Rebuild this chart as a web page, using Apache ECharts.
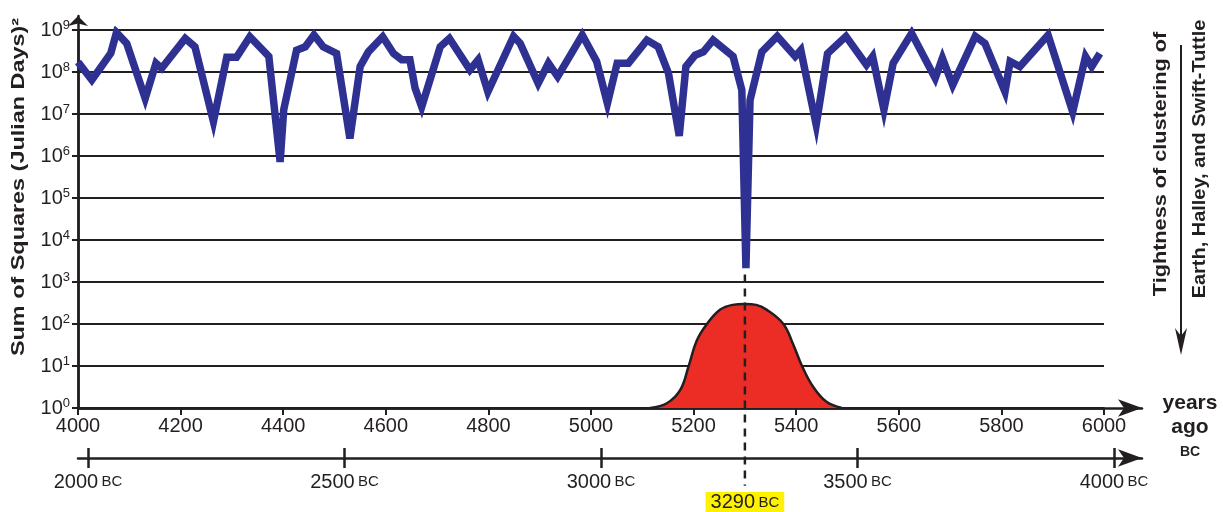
<!DOCTYPE html>
<html>
<head>
<meta charset="utf-8">
<script src="https://cdn.jsdelivr.net/npm/echarts@6/dist/echarts.min.js"></script>
<style>
  html, body { margin: 0; padding: 0; background: #fff; }
  #chart { width: 1223px; height: 512px; }
</style>
</head>
<body>
<div id="chart"></div>
<script>
  // blue line: years ago / log10 of sum of squares (Julian days^2)
  var sumSqYears = [4000, 4027, 4064, 4075, 4095, 4131, 4152, 4163, 4209, 4228, 4264, 4290, 4309, 4335, 4372, 4394, 4401,
    4426, 4443, 4460, 4478, 4504, 4530, 4550, 4566, 4594, 4615, 4631, 4647, 4657, 4670, 4706, 4724, 4764, 4780, 4799,
    4849, 4862, 4897, 4917, 4935, 4983, 5011, 5032, 5051, 5073, 5109, 5131, 5151, 5172, 5185, 5203, 5219, 5238, 5277,
    5294, 5302, 5310, 5333, 5363, 5398, 5409, 5439, 5461, 5497, 5537, 5549, 5571, 5589, 5625, 5671, 5685, 5705, 5749,
    5768, 5807, 5817, 5836, 5891, 5939, 5964, 5976, 5992];
  var sumSqExp = [8.24, 7.81, 8.45, 8.94, 8.68, 7.37, 8.21, 8.09, 8.80, 8.60, 6.82, 8.35, 8.35, 8.84, 8.37, 5.86, 7.10,
    8.52, 8.60, 8.88, 8.60, 8.44, 6.42, 8.13, 8.48, 8.84, 8.44, 8.29, 8.29, 7.62, 7.17, 8.60, 8.80, 8.05, 8.29, 7.53,
    8.85, 8.68, 7.73, 8.21, 7.89, 8.88, 8.25, 7.25, 8.21, 8.21, 8.76, 8.60, 7.97, 6.48, 8.13, 8.40, 8.48, 8.76, 8.37,
    7.57, 3.33, 7.33, 8.48, 8.85, 8.37, 8.52, 6.74, 8.44, 8.85, 8.17, 8.37, 7.10, 8.21, 8.92, 7.85, 8.33, 7.69, 8.85,
    8.68, 7.53, 8.25, 8.13, 8.88, 7.05, 8.37, 8.13, 8.44];

  // red bell (clustering tightness)
  var peakYears = [5115, 5148, 5174, 5190, 5206, 5226, 5252, 5276, 5300, 5322, 5342, 5375, 5394, 5412, 5433, 5459, 5489];
  var peakValues = [1, 1.3, 2.7, 9.6, 40, 100, 220, 285, 300, 285, 220, 100, 33, 9.6, 3.2, 1.4, 1];

  var bcTicks = [2000, 2500, 3000, 3500, 4000];
  var markerYearsAgo = 5300;
  var markerBC = 3290;
  var markerSpan = [1500, 0.014];

  var ink = '#231f20';
  var font = '"Liberation Sans", Arial, sans-serif';

  var blueData = sumSqYears.map(function (y, i) {
    return [y, Math.pow(10, sumSqExp[i])];
  });
  var peakData = peakYears.map(function (y, i) {
    return [y, peakValues[i]];
  });
  var markerData = markerSpan.map(function (v) {
    return [markerYearsAgo, v];
  });

  var bcRich = {
    n: { fontSize: 20, color: ink, fontFamily: font },
    s: { fontSize: 15, color: ink, fontFamily: font }
  };

  var chart = echarts.init(document.getElementById('chart'));
  chart.setOption({
    animation: false,
    backgroundColor: '#fff',
    textStyle: { fontFamily: font, color: ink },
    grid: [
      { left: 78, top: 30, right: 119, bottom: 104 },
      { left: 78, top: 458, right: 81, bottom: 54 },
      { left: 78, top: 16, right: 81, bottom: 104 }
    ],
    xAxis: [{
      gridIndex: 0,
      type: 'value',
      min: 4000,
      max: 6000,
      interval: 200,
      axisLine: { lineStyle: { color: ink, width: 2.5 } },
      axisTick: { show: true, length: 7, lineStyle: { color: ink, width: 2 } },
      axisLabel: {
        margin: 8, fontSize: 20, color: ink, fontFamily: font,
        formatter: function (v) { return String(v); }
      },
      splitLine: { show: false }
    }, {
      gridIndex: 1,
      type: 'value',
      position: 'bottom',
      min: 1980.5,
      max: 4054.5,
      axisLine: {
        lineStyle: { color: ink, width: 2.5 },
        symbol: ['none', 'arrow'],
        symbolSize: [13, 24]
      },
      axisTick: { show: true, length: 10, customValues: bcTicks, lineStyle: { color: ink, width: 2.5 } },
      axisLabel: {
        margin: 14,
        customValues: bcTicks,
        formatter: function (v) { return '{n|' + v + '} {s|BC}'; },
        rich: bcRich
      },
      splitLine: { show: false }
    }, {
      gridIndex: 1,
      type: 'value',
      position: 'top',
      min: 1980.5,
      max: 4054.5,
      axisLine: { show: false },
      axisTick: { show: true, length: 10, customValues: bcTicks, lineStyle: { color: ink, width: 2.5 } },
      axisLabel: { show: false },
      splitLine: { show: false }
    }, {
      gridIndex: 2,
      type: 'value',
      min: 0,
      max: 1,
      axisLine: {
        lineStyle: { color: ink, width: 2.5 },
        symbol: ['none', 'arrow'],
        symbolSize: [13, 24]
      },
      axisTick: { show: false },
      axisLabel: { show: false },
      splitLine: { show: false }
    }],
    yAxis: [{
      gridIndex: 0,
      type: 'log',
      logBase: 10,
      min: 1,
      max: 1e9,
      splitNumber: 9,
      axisLine: { show: true, lineStyle: { color: ink, width: 2.5 } },
      axisTick: { show: true, length: 6, lineStyle: { color: ink, width: 2 } },
      axisLabel: {
        margin: 8,
        formatter: function (v) {
          var e = Math.round(Math.log10(v));
          return '{b|10}{s|' + e + '}';
        },
        rich: {
          b: { fontSize: 20, color: ink, fontFamily: font, lineHeight: 22 },
          s: { fontSize: 13, color: ink, fontFamily: font, verticalAlign: 'top', lineHeight: 13 }
        }
      },
      splitLine: { show: true, lineStyle: { color: ink, width: 2 } }
    }, {
      gridIndex: 1,
      type: 'value',
      show: false
    }, {
      gridIndex: 2,
      type: 'value',
      min: 0,
      max: 1,
      axisLine: {
        show: true,
        lineStyle: { color: ink, width: 2.5 },
        symbol: ['none', 'arrow'],
        symbolSize: [15, 10]
      },
      axisTick: { show: false },
      axisLabel: { show: false },
      splitLine: { show: false }
    }],
    series: [{
      name: 'clustering',
      type: 'line',
      xAxisIndex: 0,
      yAxisIndex: 0,
      data: peakData,
      smooth: 0.4,
      symbol: 'none',
      lineStyle: { color: ink, width: 2.5 },
      areaStyle: { color: '#ec2d26', opacity: 1, origin: 'start' },
      z: 3
    }, {
      name: 'marker',
      type: 'line',
      xAxisIndex: 0,
      yAxisIndex: 0,
      data: markerData,
      clip: false,
      symbol: 'circle',
      symbolSize: 0.1,
      showSymbol: true,
      lineStyle: { color: ink, width: 2.5, type: [8, 6] },
      itemStyle: { color: ink },
      label: {
        show: true,
        position: 'bottom',
        distance: 6,
        formatter: function (p) {
          return p.dataIndex === 1 ? '{n|' + markerBC + '} {s|BC}' : '';
        },
        backgroundColor: '#fff200',
        padding: [1, 5, 1, 5],
        rich: bcRich
      },
      z: 4
    }, {
      name: 'sum of squares',
      type: 'line',
      xAxisIndex: 0,
      yAxisIndex: 0,
      data: blueData,
      symbol: 'none',
      lineStyle: { color: '#2e3192', width: 7.5, join: 'miter', miterLimit: 6 },
      z: 5
    }],
    graphic: [{
      type: 'text',
      x: 19,
      y: 187,
      rotation: Math.PI / 2,
      scaleX: 1.3,
      style: {
        text: 'Sum of Squares (Julian Days)\u00b2',
        font: 'bold 18px ' + font,
        fill: ink,
        textAlign: 'center',
        textVerticalAlign: 'middle'
      }
    }, {
      type: 'text',
      x: 1161,
      y: 164,
      rotation: Math.PI / 2,
      scaleX: 1.14,
      style: {
        text: 'Tightness of clustering of',
        font: 'bold 19px ' + font,
        fill: ink,
        textAlign: 'center',
        textVerticalAlign: 'middle'
      }
    }, {
      type: 'text',
      x: 1200,
      y: 159,
      rotation: Math.PI / 2,
      scaleX: 1.05,
      style: {
        text: 'Earth, Halley, and Swift-Tuttle',
        font: 'bold 19px ' + font,
        fill: ink,
        textAlign: 'center',
        textVerticalAlign: 'middle'
      }
    }, {
      type: 'line',
      shape: { x1: 1181, y1: 45, x2: 1181, y2: 340 },
      style: { stroke: ink, lineWidth: 2 }
    }, {
      type: 'polygon',
      shape: { points: [[1181, 355], [1175, 328], [1181, 336], [1187, 328]] },
      style: { fill: ink }
    }, {
      type: 'text',
      x: 1190,
      y: 403,
      style: { text: 'years', font: 'bold 21px ' + font, fill: ink, textAlign: 'center', textVerticalAlign: 'middle' }
    }, {
      type: 'text',
      x: 1190,
      y: 427,
      style: { text: 'ago', font: 'bold 21px ' + font, fill: ink, textAlign: 'center', textVerticalAlign: 'middle' }
    }, {
      type: 'text',
      x: 1190,
      y: 452,
      style: { text: 'BC', font: 'bold 14px ' + font, fill: ink, textAlign: 'center', textVerticalAlign: 'middle' }
    }]
  });
</script>
</body>
</html>
